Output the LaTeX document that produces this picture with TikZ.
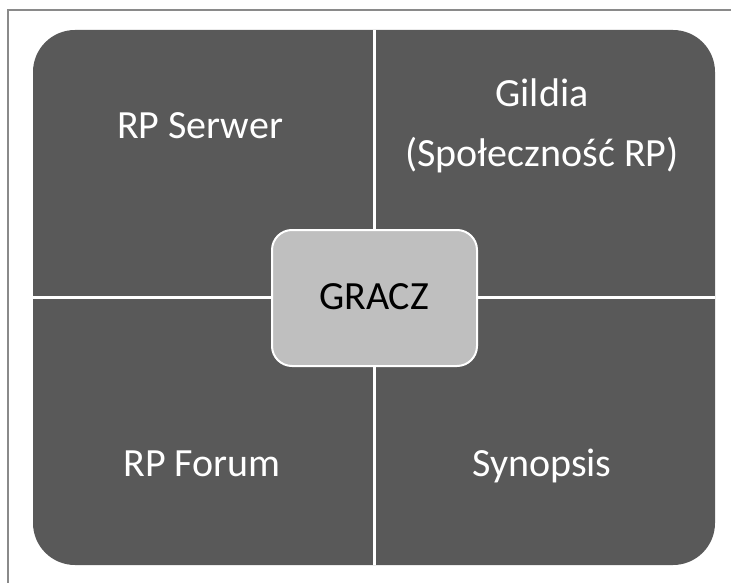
\documentclass[tikz,border=0pt]{standalone}
\usepackage{fontspec}
\setmainfont{Carlito}
\definecolor{quad}{HTML}{595959}
\definecolor{centerfill}{HTML}{BFBFBF}
\definecolor{frame}{HTML}{8A8A8A}
\tikzset{
  quadlabel/.style={text=white, font=\fontsize{40}{48}\selectfont, anchor=base, inner sep=0pt},
  divider/.style={draw=white, line width=3pt},
  centerbox/.style={fill=centerfill, draw=white, line width=2pt, rounded corners=20pt},
}
\begin{document}
\begin{tikzpicture}[x=1pt,y=-1pt]
\useasboundingbox (0,0) rectangle (731,583);
\fill[white] (0,0) rectangle (731,583);
% outer frame lines (top and left only)
\draw[frame, line width=1.5pt] (731,10) -- (8,10) -- (8,583);
% big rounded shape
\fill[quad, rounded corners=42pt] (33,30) rectangle (715,565);
% dividers
\coordinate (vt) at (374,30);
\coordinate (vb) at (374,565);
\coordinate (hl) at (33,297);
\coordinate (hr) at (715,297);
\draw[divider] (vt) -- (vb);
\draw[divider] (hl) -- (hr);
% centre box
\draw[centerbox] (272,230) rectangle (477,366);
\node[quadlabel, text=black] (gracz) at (374,309) {GRACZ};
% quadrant labels
\node[quadlabel] (serwer) at (200,139) {RP Serwer};
\node[quadlabel] (gildia) at (542,107) {Gildia};
\node[quadlabel] (spol) at (542,167) {(Społeczność RP)};
\node[quadlabel] (forum) at (202,476) {RP Forum};
\node[quadlabel] (synopsis) at (542,476) {Synopsis};
\end{tikzpicture}
\end{document}
